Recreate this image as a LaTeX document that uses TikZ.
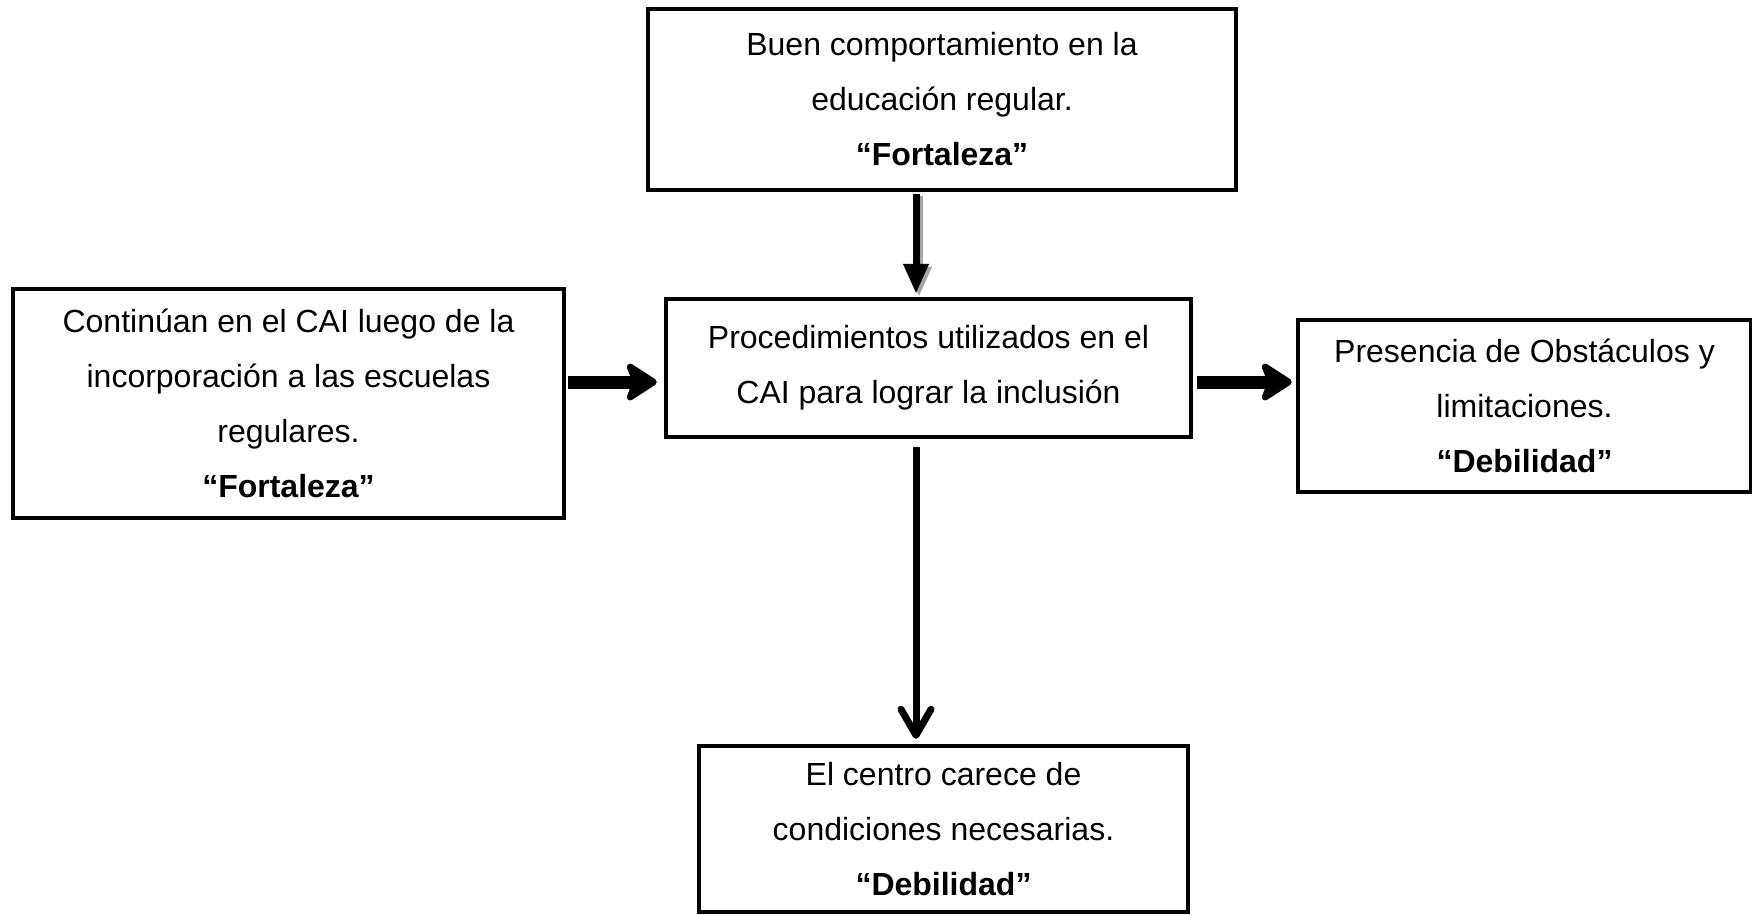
\documentclass[tikz,border=0pt]{standalone}
\usepackage{fontspec}
\setmainfont{Liberation Sans}
\usetikzlibrary{arrows.meta,calc}
\begin{document}
\begin{tikzpicture}[x=1pt,y=-1pt,
  box/.style={draw=black,line width=4.5pt,rectangle,align=center,inner sep=0pt,
    font=\fontsize{32}{55}\selectfont},
  fatarrow/.style={line width=13pt,-{Stealth[length=36pt,width=46pt,inset=9pt,round]}},
  thinarrow/.style={line width=7pt,-{Straight Barb[length=26pt,width=30pt,round]}},
  toparrow/.style={line width=7pt,-{Triangle[length=30pt,width=24pt]}}]
\useasboundingbox (0,0) rectangle (1752,914);
\fill[white] (0,0) rectangle (1752,914);
\node[box,minimum width=588pt,minimum height=181pt] (top) at (942,99.5)
  {Buen comportamiento en la\\ educación regular.\\ \textbf{“Fortaleza”}};
\node[box,minimum width=525pt,minimum height=138pt] (cen) at (928.5,368)
  {Procedimientos utilizados en el\\ CAI para lograr la inclusión};
\node[box,minimum width=551pt,minimum height=229pt] (lft) at (288.5,403.5)
  {Continúan en el CAI luego de la\\ incorporación a las escuelas\\ regulares.\\ \textbf{“Fortaleza”}};
\node[box,minimum width=453pt,minimum height=172pt] (rgt) at (1524.5,406)
  {Presencia de Obstáculos y\\ limitaciones.\\ \textbf{“Debilidad”}};
\node[box,minimum width=489pt,minimum height=166pt] (bot) at (943.5,829)
  {El centro carece de\\ condiciones necesarias.\\ \textbf{“Debilidad”}};
\coordinate (ax) at (916,0);
\coordinate (ay) at (0,382);
\coordinate (axs) at (919,0);
% shadow of the top arrow
\draw[toparrow,gray!70,shorten <=2pt,shorten >=1pt] ($(top.south -| axs)+(0,2)$) -- ($(cen.north -| axs)+(0,1)$);
\draw[toparrow,shorten <=2pt,shorten >=3pt] (top.south -| ax) -- (cen.north -| ax);
\draw[fatarrow,shorten <=2pt,shorten >=7pt] (lft.east |- ay) -- (cen.west |- ay);
\draw[fatarrow,shorten <=4pt,shorten >=4pt] (cen.east |- ay) -- (rgt.west |- ay);
\draw[thinarrow,shorten <=8pt,shorten >=5pt] (cen.south -| ax) -- (bot.north -| ax);
\end{tikzpicture}
\end{document}
